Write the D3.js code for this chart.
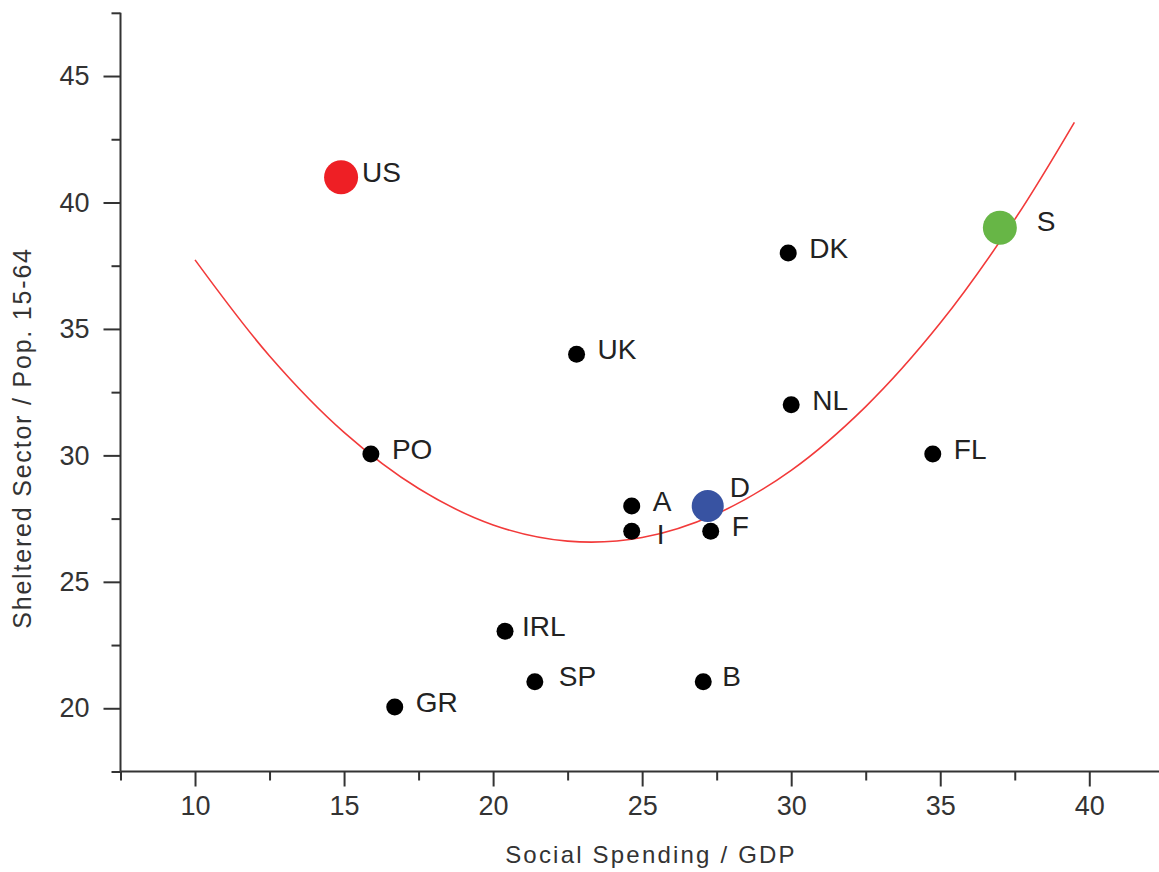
<!DOCTYPE html>
<html>
<head>
<meta charset="utf-8">
<script src="https://cdn.jsdelivr.net/npm/d3@7"></script>
<style>
    html, body { margin: 0; padding: 0; background: #fff; }
    svg { display: block; font-family: "Liberation Sans", Arial, sans-serif; }
</style>
</head>
<body>
<div id="chart"></div>
<script>
// Data
const countries = ['US', 'S', 'DK', 'UK', 'NL', 'PO', 'FL', 'A', 'I', 'D', 'F', 'IRL', 'SP', 'B', 'GR'];
const socialSpending = [14.9, 37.0, 29.9, 22.8, 30.0, 15.9, 34.75, 24.65, 24.65, 27.2, 27.3, 20.4, 21.4, 27.05, 16.7];
const shelteredSector = [41.0, 39.0, 38.0, 34.0, 32.0, 30.05, 30.05, 28.0, 27.0, 28.0, 27.0, 23.05, 21.05, 21.05, 20.05];

// Fitted curve
const trendX = [10, 12.5, 15, 17.5, 20, 22.5, 25, 27.5, 30, 32.5, 35, 37.5, 39.5];
const trendY = [37.73, 33.93, 30.91, 28.69, 27.25, 26.61, 26.75, 27.69, 29.41, 31.93, 35.23, 39.33, 43.17];

const xTicks = [10, 15, 20, 25, 30, 35, 40];
const yTicks = [20, 25, 30, 35, 40, 45];

const width = 1159;
const height = 872;

// Highlighted countries get big coloured markers
const highlight = {
    US: { color: '#ee1f25', r: 17 },
    S: { color: '#67b646', r: 17 },
    D: { color: '#3853a2', r: 16 }
};

// Label placement tweaks (relative to the point centre)
const labelDefault = { dx: 21, dy: 5 };
const labelNudge = {
    S: { dx: 37, dy: 3 },
    D: { dx: 22, dy: -9 },
    I: { dx: 25, dy: 13 },
    IRL: { dx: 17, dy: 5 },
    SP: { dx: 24, dy: 4 },
    B: { dx: 19, dy: 4 },
    US: { dx: 21, dy: 5 }
};

const svg = d3.select('#chart').append('svg')
    .attr('width', width)
    .attr('height', height);

const x = d3.scaleLinear().domain([7.5, 42.5]).range([120.5, 1163.8]);
const y = d3.scaleLinear().domain([17.5, 47.5]).range([771.5, 12.8]);

const axisColor = '#333';

// Minor ticks first (shorter), then the major ones with labels
const xMinor = d3.range(7.5, 43, 5);
const yMinor = d3.range(17.5, 48, 5);

svg.append('g')
    .attr('transform', `translate(0,${y(17.5)})`)
    .call(d3.axisBottom(x).tickValues(xMinor).tickSize(9).tickFormat(''))
    .call(g => g.select('.domain').remove())
    .selectAll('line').attr('stroke', axisColor).attr('stroke-width', 2);

svg.append('g')
    .attr('transform', `translate(${x(7.5)},0)`)
    .call(d3.axisLeft(y).tickValues(yMinor).tickSize(9).tickFormat(''))
    .call(g => g.select('.domain').remove())
    .selectAll('line').attr('stroke', axisColor).attr('stroke-width', 2);

const xAxis = svg.append('g')
    .attr('transform', `translate(0,${y(17.5)})`)
    .call(d3.axisBottom(x).tickValues(xTicks).tickSize(15).tickPadding(9).tickSizeOuter(0));
xAxis.select('.domain').attr('stroke', axisColor).attr('stroke-width', 2)
    .attr('d', `M${x(7.5)},0H${width}`);
xAxis.selectAll('line').attr('stroke', axisColor).attr('stroke-width', 2);
xAxis.selectAll('text')
    .attr('fill', axisColor)
    .attr('font-size', '27px')
    .attr('font-family', '"Liberation Sans", Arial, sans-serif');

const yAxis = svg.append('g')
    .attr('transform', `translate(${x(7.5)},0)`)
    .call(d3.axisLeft(y).tickValues(yTicks).tickSize(17).tickPadding(14).tickSizeOuter(0));
yAxis.select('.domain').attr('stroke', axisColor).attr('stroke-width', 2)
    .attr('d', `M0,${y(47.5)}V${y(17.5)}`);
yAxis.selectAll('line').attr('stroke', axisColor).attr('stroke-width', 2);
yAxis.selectAll('text')
    .attr('fill', axisColor)
    .attr('font-size', '27px')
    .attr('font-family', '"Liberation Sans", Arial, sans-serif');

// Axis titles
svg.append('text')
    .attr('x', 651)
    .attr('y', 863)
    .attr('text-anchor', 'middle')
    .attr('font-size', '24px')
    .attr('letter-spacing', '2.2px')
    .attr('fill', axisColor)
    .text('Social Spending / GDP');

svg.append('text')
    .attr('transform', 'translate(31,438) rotate(-90)')
    .attr('text-anchor', 'middle')
    .attr('font-size', '25px')
    .attr('letter-spacing', '1.8px')
    .attr('fill', axisColor)
    .text('Sheltered Sector / Pop. 15-64');

// Trend curve
const trend = trendX.map((v, i) => ({ x: v, y: trendY[i] }));
svg.append('path')
    .datum(trend)
    .attr('d', d3.line().x(d => x(d.x)).y(d => y(d.y)).curve(d3.curveCatmullRom))
    .attr('fill', 'none')
    .attr('stroke', '#f23a3a')
    .attr('stroke-width', 1.6);

// Points
const points = countries.map((c, i) => ({ name: c, sx: socialSpending[i], sy: shelteredSector[i] }));

svg.append('g').selectAll('circle')
    .data(points)
    .enter()
    .append('circle')
    .attr('cx', d => x(d.sx))
    .attr('cy', d => y(d.sy))
    .attr('r', d => highlight[d.name] ? highlight[d.name].r : 8.5)
    .attr('fill', d => highlight[d.name] ? highlight[d.name].color : '#000');

svg.append('g').selectAll('text')
    .data(points)
    .enter()
    .append('text')
    .attr('x', d => x(d.sx) + (labelNudge[d.name] || labelDefault).dx)
    .attr('y', d => y(d.sy) + (labelNudge[d.name] || labelDefault).dy)
    .attr('font-size', '28px')
    .attr('fill', '#222')
    .text(d => d.name);
</script>
</body>
</html>
